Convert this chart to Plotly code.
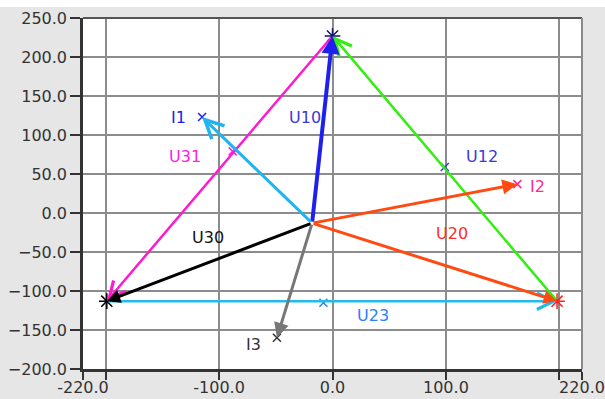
import plotly.graph_objects as go

# Star point (neutral) of the phasor diagram
neutral_x = -18
neutral_y = -13

# Phase-voltage phasor tips (U10, U20, U30)
phase_names = ["U10", "U20", "U30"]
phase_x = [0, 198, -199]
phase_y = [227, -113, -113]

# Phase currents
current_names = ["I1", "I2", "I3"]
current_x = [-115, 163, -49]
current_y = [123, 37, -160]

# Line voltages: index of start vertex -> end vertex (arrowhead at the end)
line_names = ["U12", "U23", "U31"]
line_start = [1, 2, 0]
line_end = [0, 1, 2]
line_mark_x = [99, -8, -88]
line_mark_y = [59, -115, 79]

# Label anchor points
label_names = ["U10", "U20", "U30", "U12", "U23", "U31", "I1", "I2", "I3"]
label_x = [-24, 105, -110, 132, 36, -130, -136, 181, -70]
label_y = [123, -26, -32, 72, -132, 72, 123, 34, -168]

# Axis ticks
x_tickvals = [-220, -200, -100, 0, 100, 200, 220]
x_ticktext = ["-220.0", "", "-100.0", "0.0", "100.0", "", "220.0"]
y_tickvals = [-200, -150, -100, -50, 0, 50, 100, 150, 200, 250]

phase_colors = ["#2020ee", "#ff4a12", "#000000"]
phase_widths = [4, 3, 3]
current_colors = ["#22b4ee", "#ff4a12", "#777777"]
current_heads = [5, 2, 2]
line_colors = ["#33ee11", "#22bbee", "#ff1ad0"]
vertex_colors = ["#141470", "#ff2020", "#000000"]
current_mark_colors = ["#2020e8", "#ff2a90", "#333333"]
line_mark_colors = ["#3a3ad6", "#2a80ff", "#ff22dd"]
label_colors = ["#3a3ad6", "#ff2a2a", "#111111", "#3a3ad6", "#2a80ff",
                "#ff22dd", "#2020e8", "#ff2a90", "#333333"]

FONT = "DejaVu Sans"

fig = go.Figure()

# vertex asterisks
fig.add_trace(go.Scatter(
    x=phase_x, y=phase_y, mode="markers",
    marker=dict(symbol="asterisk-open", size=13, color=vertex_colors,
                line=dict(width=1.5)),
    hoverinfo="skip", showlegend=False))

# small x marks at current tips and line-voltage marks
fig.add_trace(go.Scatter(
    x=current_x, y=current_y, mode="markers",
    marker=dict(symbol="x-thin-open", size=8, color=current_mark_colors,
                line=dict(width=1.5)),
    hoverinfo="skip", showlegend=False))
fig.add_trace(go.Scatter(
    x=line_mark_x, y=line_mark_y, mode="markers",
    marker=dict(symbol="x-thin-open", size=8, color=line_mark_colors,
                line=dict(width=1.5)),
    hoverinfo="skip", showlegend=False))

annotations = []

def arrow(x0, y0, x1, y1, color, width, head, size):
    annotations.append(dict(
        x=x1, y=y1, ax=x0, ay=y0, xref="x", yref="y", axref="x", ayref="y",
        text="", showarrow=True, arrowhead=head, arrowsize=size,
        arrowwidth=width, arrowcolor=color, standoff=0, startstandoff=0))

# line voltages (triangle)
for i in range(3):
    s, e = line_start[i], line_end[i]
    arrow(phase_x[s], phase_y[s], phase_x[e], phase_y[e],
          line_colors[i], 2.5, 5, 1.3)

# phase voltages from the star point
for i in range(3):
    arrow(neutral_x, neutral_y, phase_x[i], phase_y[i],
          phase_colors[i], phase_widths[i], 2, 0.9)

# currents from the star point
for i in range(3):
    arrow(neutral_x, neutral_y, current_x[i], current_y[i],
          current_colors[i], 3, current_heads[i],
          1.2 if current_heads[i] == 5 else 1.0)

for name, lx, ly, c in zip(label_names, label_x, label_y, label_colors):
    annotations.append(dict(
        x=lx, y=ly, xref="x", yref="y", text=name, showarrow=False,
        font=dict(family=FONT, size=16, color=c)))

# white strip along the top edge of the page
shapes = [
    dict(type="rect", xref="paper", yref="paper", x0=-0.3, x1=1.2,
         y0=1.031, y1=1.1, fillcolor="white", line=dict(width=0),
         layer="below"),
    # top and right frame of the plot area
    dict(type="line", xref="paper", yref="paper", x0=0, x1=1, y0=1, y1=1,
         line=dict(color="#555555", width=2)),
    dict(type="line", xref="paper", yref="paper", x0=1, x1=1, y0=0, y1=1,
         line=dict(color="#8a8a8a", width=2)),
]

fig.update_layout(
    width=605, height=399,
    margin=dict(l=83, r=23, t=18, b=30, autoexpand=False),
    paper_bgcolor="#e6e6e6",
    plot_bgcolor="white",
    font=dict(family=FONT, size=16, color="#333333"),
    annotations=annotations,
    shapes=shapes,
    showlegend=False,
)
fig.update_xaxes(
    range=[-220, 220], tickvals=x_tickvals, ticktext=x_ticktext,
    automargin=False, ticklabelstandoff=-6,
    showgrid=True, gridcolor="#8c8c8c", gridwidth=2,
    zeroline=False, showline=True, linecolor="#333333", linewidth=2.5,
    ticks="outside", ticklen=8, tickwidth=2, tickcolor="#333333",
    tickfont=dict(family=FONT, size=16, color="#333333"),
)
fig.update_yaxes(
    range=[-200, 250], tickvals=y_tickvals, tickformat=".1f",
    automargin=False,
    showgrid=True, gridcolor="#8c8c8c", gridwidth=2,
    zeroline=False, showline=True, linecolor="#333333", linewidth=2.5,
    ticks="outside", ticklen=10, tickwidth=2, tickcolor="#333333",
    tickfont=dict(family=FONT, size=16, color="#333333"),
)

fig.write_html("out.html")
